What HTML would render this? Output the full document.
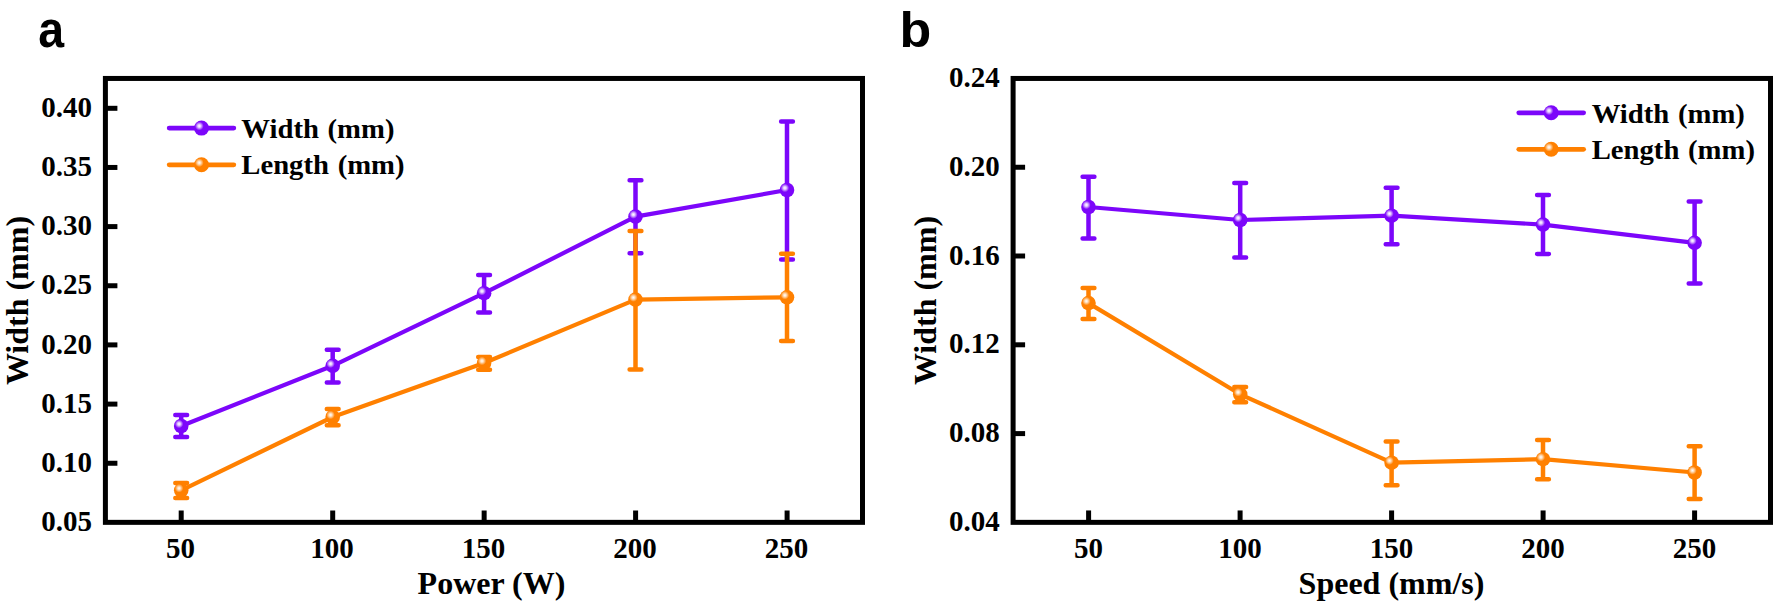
<!DOCTYPE html>
<html lang="en">
<head>
<meta charset="utf-8">
<title>Width and length versus power and speed</title>
<style>
html,body{margin:0;padding:0;background:#fff;}
body{width:1776px;height:606px;overflow:hidden;}
svg{display:block;}
text{font-family:"Liberation Serif","Times New Roman",serif;font-weight:bold;fill:#000;}
.tk{font-size:29px;}
.lg{font-size:28.7px;word-spacing:1.5px;}
.ax{font-size:32px;}
.pl{font-family:"Liberation Sans",Arial,sans-serif;font-weight:bold;font-size:50px;}
</style>
</head>
<body>
<svg width="1776" height="606" viewBox="0 0 1776 606">
<defs>
<radialGradient id="gp" cx="0.355" cy="0.36" r="0.29" fx="0.355" fy="0.36">
<stop offset="0" stop-color="#ffffff"/>
<stop offset="0.35" stop-color="#e4ccff"/>
<stop offset="1" stop-color="#7c06fa"/>
</radialGradient>
<radialGradient id="go" cx="0.355" cy="0.36" r="0.29" fx="0.355" fy="0.36">
<stop offset="0" stop-color="#ffffff"/>
<stop offset="0.35" stop-color="#ffe0c0"/>
<stop offset="1" stop-color="#ff8000"/>
</radialGradient>
</defs>
<rect width="1776" height="606" fill="#ffffff"/>

<!-- panel a -->
<text transform="translate(38.2 47.2) scale(0.93 1.03)" class="pl">a</text>
<rect x="105.4" y="78.45" width="757.1" height="443.9" fill="none" stroke="#000" stroke-width="5.0"/>
<path d="M181.2 522.4V510.50" stroke="#000" stroke-width="5.0"/>
<text x="180.6" y="557.6" class="tk" text-anchor="middle">50</text>
<path d="M332.7 522.4V510.50" stroke="#000" stroke-width="5.0"/>
<text x="332.1" y="557.6" class="tk" text-anchor="middle">100</text>
<path d="M484.15 522.4V510.50" stroke="#000" stroke-width="5.0"/>
<text x="483.5" y="557.6" class="tk" text-anchor="middle">150</text>
<path d="M635.6 522.4V510.50" stroke="#000" stroke-width="5.0"/>
<text x="635.0" y="557.6" class="tk" text-anchor="middle">200</text>
<path d="M787.1 522.4V510.50" stroke="#000" stroke-width="5.0"/>
<text x="786.5" y="557.6" class="tk" text-anchor="middle">250</text>
<path d="M105.4 108.3H117.40" stroke="#000" stroke-width="5.0"/>
<text x="92.1" y="116.9" class="tk" text-anchor="end">0.40</text>
<path d="M105.4 167.45H117.40" stroke="#000" stroke-width="5.0"/>
<text x="92.1" y="176.0" class="tk" text-anchor="end">0.35</text>
<path d="M105.4 226.6H117.40" stroke="#000" stroke-width="5.0"/>
<text x="92.1" y="235.2" class="tk" text-anchor="end">0.30</text>
<path d="M105.4 285.75H117.40" stroke="#000" stroke-width="5.0"/>
<text x="92.1" y="294.4" class="tk" text-anchor="end">0.25</text>
<path d="M105.4 344.9H117.40" stroke="#000" stroke-width="5.0"/>
<text x="92.1" y="353.5" class="tk" text-anchor="end">0.20</text>
<path d="M105.4 404.1H117.40" stroke="#000" stroke-width="5.0"/>
<text x="92.1" y="412.7" class="tk" text-anchor="end">0.15</text>
<path d="M105.4 463.25H117.40" stroke="#000" stroke-width="5.0"/>
<text x="92.1" y="471.9" class="tk" text-anchor="end">0.10</text>
<text x="92.1" y="531.0" class="tk" text-anchor="end">0.05</text>
<path d="M181.2 415.1V436.9M175.3 415.1H187.1M175.3 436.9H187.1" stroke="#7c06fa" stroke-width="4.5" stroke-linecap="round" fill="none"/>
<path d="M332.7 349.7V382.6M326.8 349.7H338.6M326.8 382.6H338.6" stroke="#7c06fa" stroke-width="4.5" stroke-linecap="round" fill="none"/>
<path d="M484.1 274.9V312.4M478.2 274.9H490.0M478.2 312.4H490.0" stroke="#7c06fa" stroke-width="4.5" stroke-linecap="round" fill="none"/>
<path d="M635.5 180.2V253.2M629.6 180.2H641.4M629.6 253.2H641.4" stroke="#7c06fa" stroke-width="4.5" stroke-linecap="round" fill="none"/>
<path d="M787.0 121.6V259.4M781.1 121.6H792.9M781.1 259.4H792.9" stroke="#7c06fa" stroke-width="4.5" stroke-linecap="round" fill="none"/>
<path d="M181.2 426.0L332.7 365.8L484.1 293.2L635.5 216.6L787.0 190.0" stroke="#7c06fa" stroke-width="4.2" stroke-linejoin="round" stroke-linecap="round" fill="none"/>
<circle cx="181.2" cy="426.0" r="7.3" fill="url(#gp)"/>
<circle cx="332.7" cy="365.8" r="7.3" fill="url(#gp)"/>
<circle cx="484.1" cy="293.2" r="7.3" fill="url(#gp)"/>
<circle cx="635.5" cy="216.6" r="7.3" fill="url(#gp)"/>
<circle cx="787.0" cy="190.0" r="7.3" fill="url(#gp)"/>
<path d="M181.2 483.0V498.0M175.3 483.0H187.1M175.3 498.0H187.1" stroke="#ff8000" stroke-width="4.5" stroke-linecap="round" fill="none"/>
<path d="M332.7 408.9V425.3M326.8 408.9H338.6M326.8 425.3H338.6" stroke="#ff8000" stroke-width="4.5" stroke-linecap="round" fill="none"/>
<path d="M484.1 356.9V369.7M478.2 356.9H490.0M478.2 369.7H490.0" stroke="#ff8000" stroke-width="4.5" stroke-linecap="round" fill="none"/>
<path d="M635.5 231.0V369.4M629.6 231.0H641.4M629.6 369.4H641.4" stroke="#ff8000" stroke-width="4.5" stroke-linecap="round" fill="none"/>
<path d="M787.0 253.7V341.1M781.1 253.7H792.9M781.1 341.1H792.9" stroke="#ff8000" stroke-width="4.5" stroke-linecap="round" fill="none"/>
<path d="M181.2 490.3L332.7 417.0L484.1 363.0L635.5 299.6L787.0 297.3" stroke="#ff8000" stroke-width="4.2" stroke-linejoin="round" stroke-linecap="round" fill="none"/>
<circle cx="181.2" cy="490.3" r="7.3" fill="url(#go)"/>
<circle cx="332.7" cy="417.0" r="7.3" fill="url(#go)"/>
<circle cx="484.1" cy="363.0" r="7.3" fill="url(#go)"/>
<circle cx="635.5" cy="299.6" r="7.3" fill="url(#go)"/>
<circle cx="787.0" cy="297.3" r="7.3" fill="url(#go)"/>
<path d="M169.2 128.1H233.8" stroke="#7c06fa" stroke-width="4.8" stroke-linecap="round"/>
<circle cx="201.5" cy="128.1" r="7.5" fill="url(#gp)"/>
<text transform="translate(241.3 138.2) scale(1 0.965)" class="lg">Width (mm)</text>
<path d="M169.2 164.8H233.8" stroke="#ff8000" stroke-width="4.8" stroke-linecap="round"/>
<circle cx="201.5" cy="164.8" r="7.5" fill="url(#go)"/>
<text transform="translate(241.3 174.4) scale(1 0.965)" class="lg">Length (mm)</text>
<text x="491.5" y="593.6" class="ax" text-anchor="middle">Power (W)</text>
<text transform="translate(28.2 300.5) rotate(-90)" class="ax" text-anchor="middle">Width (mm)</text>

<!-- panel b -->
<text transform="translate(899.6 47.3) scale(1.04 1.005)" class="pl">b</text>
<rect x="1013.1" y="78.45" width="757.4" height="443.9" fill="none" stroke="#000" stroke-width="5.0"/>
<path d="M1088.6 522.35V510.45" stroke="#000" stroke-width="5.0"/>
<text x="1088.4" y="557.6" class="tk" text-anchor="middle">50</text>
<path d="M1240.1 522.35V510.45" stroke="#000" stroke-width="5.0"/>
<text x="1239.9" y="557.6" class="tk" text-anchor="middle">100</text>
<path d="M1391.6 522.35V510.45" stroke="#000" stroke-width="5.0"/>
<text x="1391.4" y="557.6" class="tk" text-anchor="middle">150</text>
<path d="M1543.1 522.35V510.45" stroke="#000" stroke-width="5.0"/>
<text x="1542.9" y="557.6" class="tk" text-anchor="middle">200</text>
<path d="M1694.6 522.35V510.45" stroke="#000" stroke-width="5.0"/>
<text x="1694.4" y="557.6" class="tk" text-anchor="middle">250</text>
<text x="999.8" y="87.0" class="tk" text-anchor="end">0.24</text>
<path d="M1013.1 167.25H1025.10" stroke="#000" stroke-width="5.0"/>
<text x="999.8" y="175.8" class="tk" text-anchor="end">0.20</text>
<path d="M1013.1 256.0H1025.10" stroke="#000" stroke-width="5.0"/>
<text x="999.8" y="264.6" class="tk" text-anchor="end">0.16</text>
<path d="M1013.1 344.8H1025.10" stroke="#000" stroke-width="5.0"/>
<text x="999.8" y="353.4" class="tk" text-anchor="end">0.12</text>
<path d="M1013.1 433.6H1025.10" stroke="#000" stroke-width="5.0"/>
<text x="999.8" y="442.2" class="tk" text-anchor="end">0.08</text>
<text x="999.8" y="531.0" class="tk" text-anchor="end">0.04</text>
<path d="M1088.5 176.7V238.5M1082.6 176.7H1094.4M1082.6 238.5H1094.4" stroke="#7c06fa" stroke-width="4.5" stroke-linecap="round" fill="none"/>
<path d="M1240.2 183.0V257.6M1234.3 183.0H1246.1M1234.3 257.6H1246.1" stroke="#7c06fa" stroke-width="4.5" stroke-linecap="round" fill="none"/>
<path d="M1391.6 187.8V244.3M1385.7 187.8H1397.5M1385.7 244.3H1397.5" stroke="#7c06fa" stroke-width="4.5" stroke-linecap="round" fill="none"/>
<path d="M1543.0 195.1V253.9M1537.1 195.1H1548.9M1537.1 253.9H1548.9" stroke="#7c06fa" stroke-width="4.5" stroke-linecap="round" fill="none"/>
<path d="M1694.6 201.4V283.4M1688.7 201.4H1700.5M1688.7 283.4H1700.5" stroke="#7c06fa" stroke-width="4.5" stroke-linecap="round" fill="none"/>
<path d="M1088.5 207.0L1240.2 220.0L1391.6 215.7L1543.0 224.6L1694.6 242.8" stroke="#7c06fa" stroke-width="4.2" stroke-linejoin="round" stroke-linecap="round" fill="none"/>
<circle cx="1088.5" cy="207.0" r="7.3" fill="url(#gp)"/>
<circle cx="1240.2" cy="220.0" r="7.3" fill="url(#gp)"/>
<circle cx="1391.6" cy="215.7" r="7.3" fill="url(#gp)"/>
<circle cx="1543.0" cy="224.6" r="7.3" fill="url(#gp)"/>
<circle cx="1694.6" cy="242.8" r="7.3" fill="url(#gp)"/>
<path d="M1088.5 287.9V319.0M1082.6 287.9H1094.4M1082.6 319.0H1094.4" stroke="#ff8000" stroke-width="4.5" stroke-linecap="round" fill="none"/>
<path d="M1240.2 387.1V402.3M1234.3 387.1H1246.1M1234.3 402.3H1246.1" stroke="#ff8000" stroke-width="4.5" stroke-linecap="round" fill="none"/>
<path d="M1391.6 441.4V485.2M1385.7 441.4H1397.5M1385.7 485.2H1397.5" stroke="#ff8000" stroke-width="4.5" stroke-linecap="round" fill="none"/>
<path d="M1543.0 440.1V479.3M1537.1 440.1H1548.9M1537.1 479.3H1548.9" stroke="#ff8000" stroke-width="4.5" stroke-linecap="round" fill="none"/>
<path d="M1694.6 446.3V498.9M1688.7 446.3H1700.5M1688.7 498.9H1700.5" stroke="#ff8000" stroke-width="4.5" stroke-linecap="round" fill="none"/>
<path d="M1088.5 303.1L1240.2 394.3L1391.6 462.7L1543.0 459.2L1694.6 472.5" stroke="#ff8000" stroke-width="4.2" stroke-linejoin="round" stroke-linecap="round" fill="none"/>
<circle cx="1088.5" cy="303.1" r="7.3" fill="url(#go)"/>
<circle cx="1240.2" cy="394.3" r="7.3" fill="url(#go)"/>
<circle cx="1391.6" cy="462.7" r="7.3" fill="url(#go)"/>
<circle cx="1543.0" cy="459.2" r="7.3" fill="url(#go)"/>
<circle cx="1694.6" cy="472.5" r="7.3" fill="url(#go)"/>
<path d="M1518.8 112.8H1583.6" stroke="#7c06fa" stroke-width="4.8" stroke-linecap="round"/>
<circle cx="1551.2" cy="112.8" r="7.5" fill="url(#gp)"/>
<text transform="translate(1591.7 122.7) scale(1 0.965)" class="lg">Width (mm)</text>
<path d="M1518.8 149.3H1583.6" stroke="#ff8000" stroke-width="4.8" stroke-linecap="round"/>
<circle cx="1551.2" cy="149.3" r="7.5" fill="url(#go)"/>
<text transform="translate(1591.7 159.4) scale(1 0.965)" class="lg">Length (mm)</text>
<text x="1391.5" y="593.6" class="ax" text-anchor="middle">Speed (mm/s)</text>
<text transform="translate(935.8 300.5) rotate(-90)" class="ax" text-anchor="middle">Width (mm)</text>
</svg>
</body>
</html>
